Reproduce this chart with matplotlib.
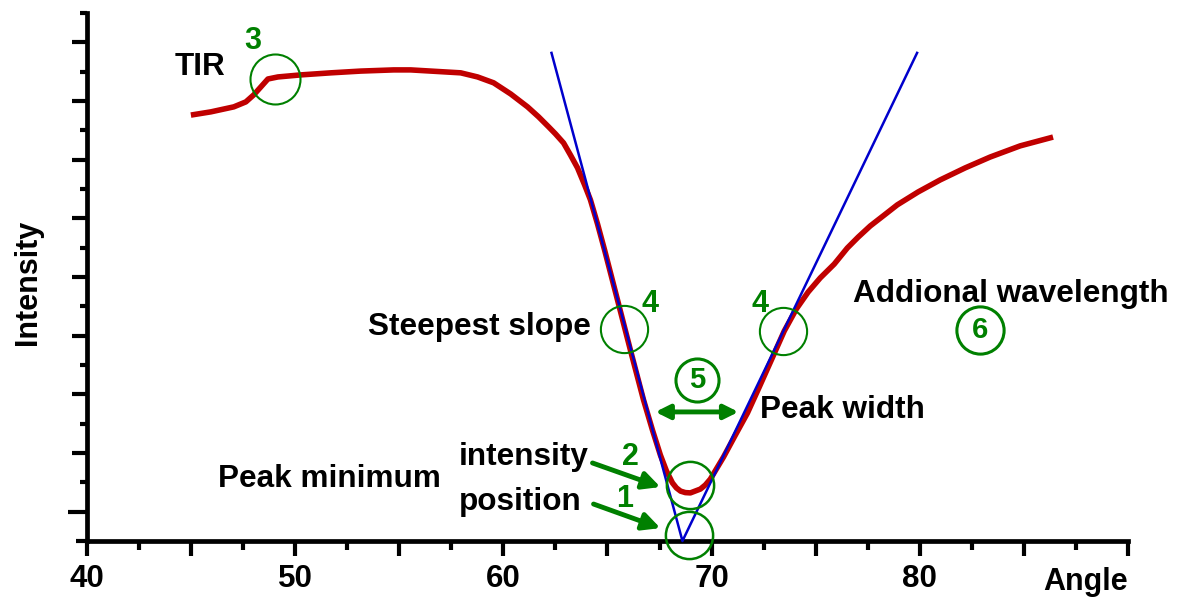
import matplotlib
matplotlib.use('Agg')
import matplotlib.pyplot as plt
import numpy as np

plt.rcParams['font.family'] = ['Liberation Sans', 'DejaVu Sans']
plt.rcParams['font.weight'] = 'bold'

# SPR curve (arbitrary intensity units)
angle = [44.99, 45.95, 47.05, 47.63, 48.01, 48.69, 49.17, 50.27, 51.71, 53.15,
         54.73, 55.55, 56.51, 57.95, 58.76, 59.53, 60.35, 61.16, 61.69, 62.17,
         62.50, 62.89, 63.22, 63.56, 63.90, 64.18, 64.52, 64.86, 65.48, 66.10,
         66.73, 67.16, 67.54, 67.83, 68.12, 68.31, 68.51, 68.74, 68.98, 69.46,
         69.70, 69.94, 70.57, 71.14, 71.72, 72.29, 72.87, 73.49, 74.07, 74.64,
         75.22, 75.89, 76.52, 77.04, 77.62, 78.29, 78.92, 79.92, 80.98, 82.18,
         83.38, 84.82, 86.40]
intensity = [14.52, 14.63, 14.80, 14.97, 15.21, 15.75, 15.82, 15.89, 15.96, 16.02,
             16.06, 16.06, 16.02, 15.96, 15.82, 15.62, 15.24, 14.80, 14.46, 14.12,
             13.88, 13.57, 13.16, 12.72, 12.14, 11.63, 10.81, 9.92, 8.22, 6.51,
             4.81, 3.78, 2.93, 2.39, 1.98, 1.81, 1.70, 1.65, 1.64, 1.77,
             1.91, 2.11, 2.86, 3.61, 4.36, 5.25, 6.17, 7.16, 7.91, 8.49,
             8.97, 9.44, 9.99, 10.36, 10.74, 11.11, 11.46, 11.90, 12.31, 12.72,
             13.09, 13.47, 13.77]

# tangents through the steepest slopes, meeting at the extrapolated minimum
tangent_x = [62.31, 68.60, 79.87]
tangent_y = [16.64, 0.0, 16.64]

xticks = [40, 45, 50, 55, 60, 65, 70, 75, 80, 85, 90]
xticklabels = ['40', '', '50', '', '60', '', '70', '', '80', '', '']

red = '#c00000'
blue = '#0000cc'
green = '#008000'

fig = plt.figure(figsize=(11.81, 5.99), dpi=100)
ax = fig.add_axes([87 / 1181, 58 / 599, 1041 / 1181, 528 / 599])

ax.plot(angle, intensity, color=red, lw=4.0, solid_joinstyle='round',
        solid_capstyle='butt', zorder=3, clip_on=False)
ax.plot(tangent_x, tangent_y, color=blue, lw=1.8, zorder=4, clip_on=False)

ax.set_xlim(40, 90)
ax.set_ylim(0, 18)

for side in ['top', 'right']:
    ax.spines[side].set_visible(False)
for side in ['left', 'bottom']:
    ax.spines[side].set_linewidth(3.4)
    ax.spines[side].set_capstyle('projecting')

ax.set_xticks(xticks)
ax.set_xticklabels(xticklabels)
ax.set_xticks(np.arange(42.5, 90, 5), minor=True)
ax.set_yticks([0] + list(range(1, 18, 2)))
ax.set_yticklabels([])
ax.set_yticks(range(2, 19, 2), minor=True)

ax.tick_params(axis='both', which='major', direction='out', length=10.8, width=3.0,
               color='black', labelsize=22.5, pad=6)
ax.tick_params(axis='x', which='minor', direction='out', length=6.3, width=3.0)
ax.tick_params(axis='y', which='minor', direction='out', length=5.0, width=3.0)
yt = ax.yaxis.get_major_ticks()
yt[0].tick1line.set_markersize(8)
yt[1].tick1line.set_markersize(14)
for lab in ax.get_xticklabels():
    lab.set_fontweight('bold')

ax.text(1.0, -0.0928, 'Angle', transform=ax.transAxes, ha='right', va='baseline',
        fontsize=22, fontweight='bold')
ax.text(-0.0567, 0.489, 'Intensity', transform=ax.transAxes, rotation=90,
        ha='center', va='center', fontsize=22, fontweight='bold')

# feature markers
circ = dict(marker='o', mfc='none', mec=green, ls='none', zorder=5, clip_on=False)
ax.plot([49.02], [15.75], ms=36, mew=1.5, **circ)
ax.plot([65.77, 73.45], [7.23, 7.16], ms=34, mew=1.5, **circ)
ax.plot([68.98], [1.91], ms=34, mew=1.8, **circ)
ax.plot([68.93], [0.20], ms=34, mew=1.8, **circ)
ax.plot([69.32], [5.49], ms=31, mew=2.2, **circ)
ax.plot([82.90], [7.19], ms=34, mew=2.2, **circ)

num = dict(color=green, fontweight='bold', ha='center', va='center', zorder=6)
ax.text(47.97, 17.05, '3', fontsize=22, **num)
ax.text(67.02, 8.08, '4', fontsize=22, **num)
ax.text(72.34, 8.08, '4', fontsize=22, **num)
ax.text(66.10, 2.86, '2', fontsize=22, **num)
ax.text(65.82, 1.43, '1', fontsize=22, **num)
ax.text(69.32, 5.49, '5', fontsize=21, **num)
ax.text(82.90, 7.19, '6', fontsize=21, **num)

arr = dict(arrowstyle='-|>', color=green, lw=3.5, mutation_scale=26,
           shrinkA=0, shrinkB=0)
ax.annotate('', xy=(67.54, 1.84), xytext=(64.28, 2.66), arrowprops=arr, zorder=6)
ax.annotate('', xy=(67.54, 0.44), xytext=(64.33, 1.26), arrowprops=arr, zorder=6)
ax.annotate('', xy=(71.29, 4.40), xytext=(67.30, 4.40),
            arrowprops=dict(arr, arrowstyle='<|-|>', mutation_scale=21), zorder=6)

lbl = dict(fontsize=22.7, fontweight='bold', color='black')
ax.text(45.42, 16.16, 'TIR', ha='center', va='center', **lbl)
ax.text(64.18, 7.02, 'Steepest slope', ha='right', va='baseline', **lbl)
ax.text(46.29, 1.84, 'Peak minimum', ha='left', va='baseline', **lbl)
ax.text(57.85, 2.59, 'intensity', ha='left', va='baseline', **lbl)
ax.text(57.85, 1.06, 'position', ha='left', va='baseline', **lbl)
ax.text(72.34, 4.19, 'Peak width', ha='left', va='baseline', **lbl)
ax.text(76.80, 8.15, 'Addional wavelength', ha='left', va='baseline', **lbl)

fig.savefig('out.png', dpi=100)
